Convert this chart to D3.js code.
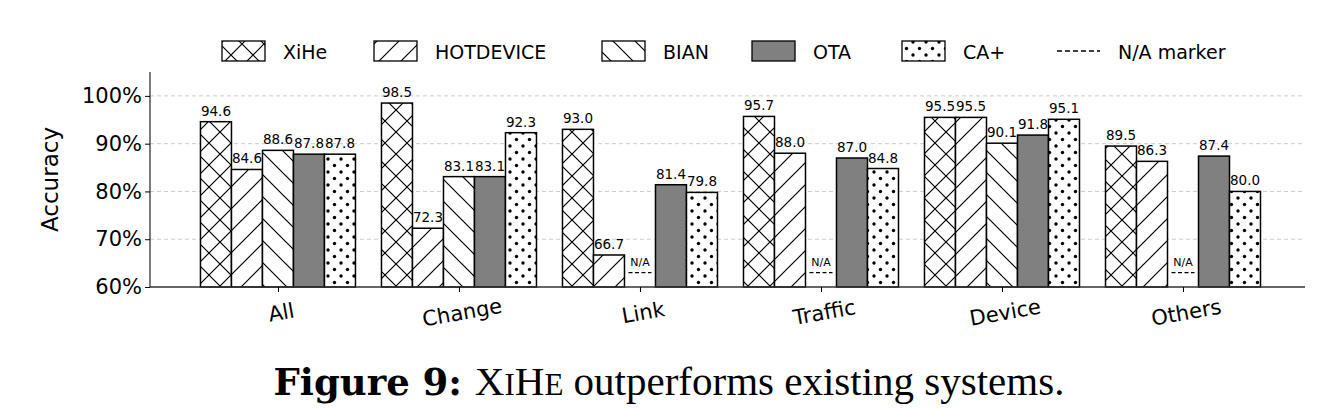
<!DOCTYPE html>
<html><head><meta charset="utf-8">
<script src="https://cdn.jsdelivr.net/npm/d3@7"></script>
<style>
body{margin:0;background:#fff;}
svg{font-family:"DejaVu Sans",sans-serif;}
</style></head>
<body><svg id="chart" width="1338" height="410"></svg>
<script>
var categories = ["All","Change","Link","Traffic","Device","Others"];
var systems = ["XiHe","HOTDEVICE","BIAN","OTA","CA+"];
var xihe = [94.6, 98.5, 93.0, 95.7, 95.5, 89.5];
var hotdevice = [84.6, 72.3, 66.7, 88.0, 95.5, 86.3];
var bian = [88.6, 83.1, null, null, 90.1, null];
var ota = [87.8, 83.1, 81.4, 87.0, 91.8, 87.4];
var caplus = [87.8, 92.3, 79.8, 84.8, 95.1, 80.0];
var yTicks = [60,70,80,90,100];
var series = [xihe, hotdevice, bian, ota, caplus];
var fills = ["url(#cross)","url(#fwd)","url(#back)","#808080","url(#dots)"];

var svg = d3.select("#chart");
var defs = svg.append("defs");
function pat(id, size, draw){
  var p = defs.append("pattern").attr("id",id).attr("patternUnits","userSpaceOnUse")
    .attr("width",size).attr("height",size);
  p.append("rect").attr("width",size).attr("height",size).attr("fill","#fff");
  draw(p);
}
pat("cross",22,function(p){
  p.append("path").attr("d","M0,0L22,22M22,0L0,22M-11,11L0,22M11,-11L33,11M-11,11L11,-11M11,33L33,11").attr("stroke","#000").attr("stroke-width",1.2);
});
pat("fwd",22,function(p){
  p.append("path").attr("d","M0,22L22,0M-11,11L11,-11M11,33L33,11").attr("stroke","#000").attr("stroke-width",1.2);
});
pat("back",22,function(p){
  p.append("path").attr("d","M0,0L22,22M-11,11L11,33M11,-11L33,11").attr("stroke","#000").attr("stroke-width",1.2);
});
pat("dots",13,function(p){
  p.append("circle").attr("cx",3).attr("cy",3).attr("r",1.7).attr("fill","#000");
  p.append("circle").attr("cx",9.5).attr("cy",9.5).attr("r",1.7).attr("fill","#000");
});

var mLeft=150, mRight=1305, mTop=72, mBottom=287;
var x = d3.scaleLinear().domain([-0.707, 5.674]).range([mLeft,mRight]);
var y = d3.scaleLinear().domain([60,105]).range([mBottom,mTop]);
var bw = 31;

// grid
svg.append("g").selectAll("line").data(yTicks.slice(1)).enter().append("line")
  .attr("x1",mLeft).attr("x2",mRight).attr("y1",d=>y(d)).attr("y2",d=>y(d))
  .attr("stroke","#ccc").attr("stroke-dasharray","4,3").attr("stroke-width",1);

// bars
series.forEach(function(vals, s){
  var g = svg.append("g");
  vals.forEach(function(v, i){
    var cx = x(i) + (s-2)*bw;
    if (v === null) {
      g.append("line").attr("x1",cx-bw/2+4).attr("x2",cx+bw/2-4)
        .attr("y1",y(63)).attr("y2",y(63)).attr("stroke","#000").attr("stroke-width",1.3).attr("stroke-dasharray","4,2.5");
      g.append("text").attr("x",cx).attr("y",y(64.3)).attr("text-anchor","middle")
        .attr("font-size",11).text("N/A");
      return;
    }
    g.append("rect").attr("x",cx-bw/2).attr("y",y(v)).attr("width",bw).attr("height",y(60)-y(v))
      .attr("fill",fills[s]).attr("stroke","#000").attr("stroke-width",1.5);
    g.append("text").attr("x",cx).attr("y",y(v)-6).attr("text-anchor","middle")
      .attr("font-size",13.5).text(v.toFixed(1));
  });
});

// axes
var yAxis = d3.axisLeft(y).tickValues(yTicks).tickFormat(d=>d+"%").tickSize(5);
svg.append("g").attr("transform","translate("+mLeft+",0)").call(yAxis)
  .call(g=>g.select(".domain").attr("d","M0,"+mTop+"V"+mBottom))
  .selectAll("text").attr("font-size",21).attr("fill","#000").attr("font-family","DejaVu Sans");
var xAxis = d3.axisBottom(x).tickValues(d3.range(6)).tickFormat(i=>categories[i]).tickSize(5);
svg.append("g").attr("transform","translate(0,"+mBottom+")").call(xAxis)
  .call(g=>g.select(".domain").attr("d","M"+mLeft+",0H"+mRight))
  .selectAll("text").attr("font-size",21).attr("fill","#000").attr("font-family","DejaVu Sans")
  .attr("transform","translate(0,10) rotate(-10)").attr("dy","0.71em");
svg.selectAll(".domain").attr("stroke","#333").attr("stroke-width",1.3);

svg.append("text").attr("transform","translate(58,"+((mTop+mBottom)/2)+") rotate(-90)")
  .attr("text-anchor","middle").attr("font-size",23).text("Accuracy");

// legend
var legX = [222, 374, 602, 752, 902];
systems.forEach(function(name, s){
  svg.append("rect").attr("x",legX[s]).attr("y",41).attr("width",43).attr("height",20)
    .attr("fill",fills[s]).attr("stroke","#000").attr("stroke-width",1.3);
  svg.append("text").attr("x",legX[s]+61).attr("y",59).attr("font-size",19).text(name);
});
svg.append("line").attr("x1",1057).attr("x2",1100).attr("y1",51).attr("y2",51)
  .attr("stroke","#000").attr("stroke-width",1.5).attr("stroke-dasharray","5,3");
svg.append("text").attr("x",1118).attr("y",59).attr("font-size",19).text("N/A marker");

// caption
var cap = svg.append("text").attr("x",669).attr("y",395).attr("text-anchor","middle")
  .style("font-family","'Liberation Serif','DejaVu Serif',serif").attr("font-size",41);
cap.append("tspan").attr("font-weight","bold").style("font-family","'DejaVu Serif',serif").attr("font-size",37).text("Figure 9: ");
cap.append("tspan").text("X");
cap.append("tspan").attr("font-size",31).text("I");
cap.append("tspan").text("H");
cap.append("tspan").attr("font-size",31).text("E");
cap.append("tspan").text(" outperforms existing systems.");
</script></body></html>
